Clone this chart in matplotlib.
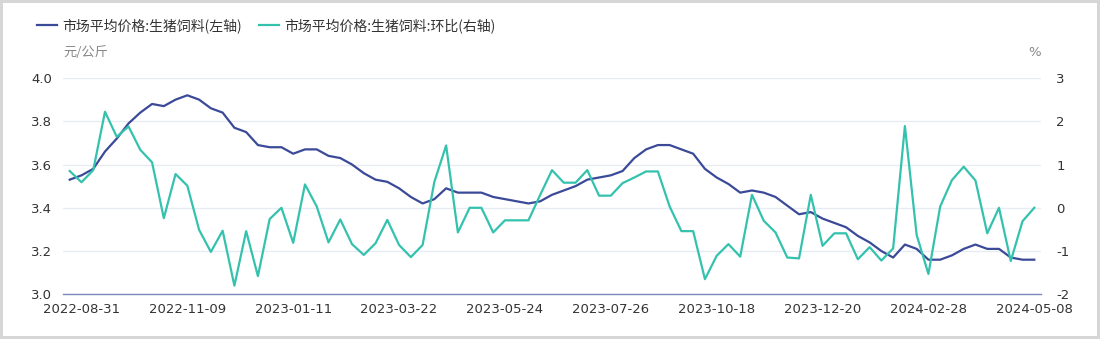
import matplotlib
matplotlib.use("Agg")
import matplotlib.pyplot as plt
from matplotlib.patches import Rectangle
import numpy as np

plt.rcParams['font.family'] = ['Noto Sans CJK SC', 'DejaVu Sans']
plt.rcParams['axes.unicode_minus'] = False

# weekly market price of hog feed (yuan/kg), left axis
price = [3.53, 3.55, 3.58, 3.66, 3.72, 3.79, 3.84, 3.88, 3.87, 3.90, 3.92, 3.90, 3.86, 3.84, 3.77, 3.75,
         3.69, 3.68, 3.68, 3.65, 3.67, 3.67, 3.64, 3.63, 3.60, 3.56, 3.53, 3.52, 3.49, 3.45, 3.42, 3.44, 3.49,
         3.47, 3.47, 3.47, 3.45, 3.44, 3.43, 3.42, 3.43, 3.46, 3.48, 3.50, 3.53, 3.54, 3.55, 3.57, 3.63, 3.67,
         3.69, 3.69, 3.67, 3.65, 3.58, 3.54, 3.51, 3.47, 3.48, 3.47, 3.45, 3.41, 3.37, 3.38, 3.35, 3.33,
         3.31, 3.27, 3.24, 3.20, 3.17, 3.23, 3.21, 3.16, 3.16, 3.18, 3.21, 3.23, 3.21, 3.21, 3.17, 3.16, 3.16]

# week-on-week change (%), right axis
change = [0.85, 0.59, 0.87, 2.22, 1.64, 1.88, 1.34, 1.05, -0.24, 0.78, 0.51, -0.51, -1.02, -0.53, -1.80, -0.54,
          -1.58, -0.26, 0.0, -0.81, 0.54, 0.03, -0.80, -0.27, -0.84, -1.09, -0.82, -0.28, -0.86, -1.14, -0.86, 0.60, 1.44,
          -0.57, 0.0, 0.0, -0.57, -0.29, -0.29, -0.29, 0.30, 0.87, 0.58, 0.58, 0.87, 0.28, 0.28, 0.57, 0.70, 0.84,
          0.84, 0.03, -0.54, -0.54, -1.65, -1.11, -0.84, -1.13, 0.30, -0.30, -0.57, -1.15, -1.17, 0.30, -0.88, -0.59,
          -0.59, -1.19, -0.91, -1.22, -0.94, 1.89, -0.63, -1.53, 0.03, 0.64, 0.95, 0.63, -0.59, 0.0, -1.23, -0.31, 0.0]

tick_pos = [1, 10, 19, 28, 37, 46, 55, 64, 73, 82]
tick_labels = ["2022-08-31", "2022-11-09", "2023-01-11", "2023-03-22", "2023-05-24",
               "2023-07-26", "2023-10-18", "2023-12-20", "2024-02-28", "2024-05-08"]

BLUE = "#3b4a98"
TEAL = "#34c2ae"
GRID = "#e9ebf3"
TXT = "#333333"

W, H = 1100, 339
fig = plt.figure(figsize=(W / 100, H / 100), dpi=100)
left, right, top, bottom = 63, 1041, 78, 294.3
ax = fig.add_axes([left / W, 1 - bottom / H, (right - left) / W, (bottom - top) / H])
ax2 = ax.twinx()

x = np.arange(len(price))
l1, = ax.plot(x, price, color=BLUE, lw=1.6, label="市场平均价格:生猪饲料(左轴)")
l2, = ax2.plot(x, change, color=TEAL, lw=1.6, label="市场平均价格:生猪饲料:环比(右轴)")

pad = 6.7 / 11.75
ax.set_xlim(-pad, len(price) - 1 + pad)
ax.set_ylim(3.0, 4.0)
ax2.set_ylim(-2, 3)
ax.set_yticks(np.arange(3.0, 4.01, 0.2))
ax.set_yticklabels([f"{v:.1f}" for v in np.arange(3.0, 4.01, 0.2)])
ax2.set_yticks(range(-2, 4))
ax.set_xticks(tick_pos)
ax.set_xticklabels(tick_labels)

ax.grid(axis="y", color=GRID, lw=1.0)
ax.set_axisbelow(True)
for a in (ax, ax2):
    for s in ("top", "left", "right", "bottom"):
        a.spines[s].set_visible(False)
ax.spines["bottom"].set_visible(True)
ax.spines["bottom"].set_color("#7f8bbd")
ax.spines["bottom"].set_linewidth(1.0)

ax.tick_params(axis="both", length=0, labelsize=9.5, labelcolor=TXT)
ax.tick_params(axis="y", pad=8)
ax.tick_params(axis="x", pad=6)
ax2.tick_params(axis="y", length=0, labelsize=9.5, labelcolor=TXT, pad=11)
for lab in ax.get_xticklabels() + ax.get_yticklabels() + ax2.get_yticklabels():
    lab.set_fontfamily("DejaVu Sans")

fig.text(63 / W, 1 - 52 / H, "元/公斤", fontsize=9.5, color="#888888", va="center", ha="left")
fig.text(1041 / W, 1 - 52 / H, "%", fontsize=9.5, color="#888888", va="center", ha="right",
         family="DejaVu Sans")

fig.legend(handles=[l1, l2], loc="upper left", bbox_to_anchor=(37 / W, 1 - 18 / H),
           ncol=2, frameon=False, fontsize=10, handlelength=1.45, handletextpad=0.4,
           columnspacing=1.2, borderpad=0, borderaxespad=0, labelcolor=TXT)

fig.patches.append(Rectangle((0, 0), 1, 1, transform=fig.transFigure, fill=False,
                             ec="#d6d6d6", lw=4.3))

fig.savefig("out.png", dpi=100, facecolor="white")
